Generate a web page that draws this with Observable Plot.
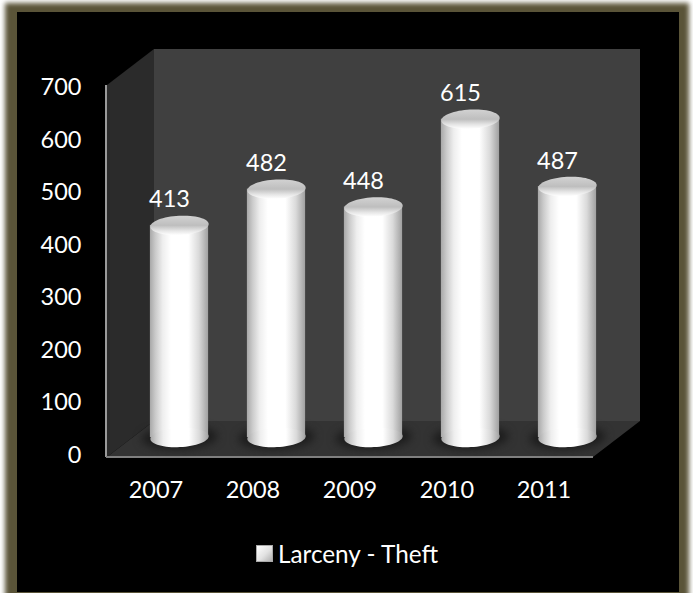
<!DOCTYPE html>
<html><head><meta charset="utf-8">
<script src="https://cdn.jsdelivr.net/npm/d3@7"></script>
<script src="https://cdn.jsdelivr.net/npm/@observablehq/plot@0.6"></script>
<style>
html,body{margin:0;padding:0;background:#fff;width:693px;height:593px;overflow:hidden}
#edge{position:absolute;left:5px;top:3px;width:684px;height:600px;background:#5a5438;filter:blur(2.5px)}
#frame{position:absolute;left:17px;top:12px;width:662px;height:580px;background:#000}
#chart{position:absolute;left:0;top:0}
#legend{position:absolute;left:256px;top:538px;height:30px;display:flex;align-items:center;color:#fff;font:24.3px Lato,sans-serif;white-space:nowrap}
#legend i{display:block;width:15px;height:15px;margin-right:5px;border:1px solid #aaa;background:linear-gradient(135deg,#ffffff,#e2e2e2 55%,#b0b0b0)}
</style></head><body>
<div id="edge"></div><div id="frame"></div><div id="chart"></div>
<div id="legend"><i></i><span>Larceny - Theft</span></div>
<script>
const years = ["2007","2008","2009","2010","2011"];
const values = [413,482,448,615,487];
const yTicks = [0,100,200,300,400,500,600,700];
const rows = years.map((year,i)=>({year,value:values[i]}));

const font = 'Lato,sans-serif';
const labelSize = 23.5;
const ellipse = (ratio,tilt)=>({draw(ctx,size){
  const rx=Math.sqrt(size/Math.PI), ry=rx*ratio, c=Math.cos(tilt), s=Math.sin(tilt);
  for(let k=0;k<64;k++){
    const a=k/64*2*Math.PI, ex=rx*Math.cos(a), ey=ry*Math.sin(a);
    const px=ex*c-ey*s, py=ex*s+ey*c;
    k?ctx.lineTo(px,py):ctx.moveTo(px,py);
  }
  ctx.closePath();
}});
const defs=()=>{
  const d=d3.create("svg:defs");
  const g=(id,x2,y2,stops)=>{
    const l=d.append("linearGradient").attr("id",id).attr("x1",0).attr("y1",0).attr("x2",x2).attr("y2",y2);
    stops.forEach(([o,c])=>l.append("stop").attr("offset",o).attr("stop-color",c));
  };
  g("cyl",1,0,[[0,"#a8a8a8"],[.1,"#cccccc"],[.22,"#eeeeee"],[.36,"#ffffff"],[.66,"#ffffff"],[.84,"#dadada"],[1,"#a0a0a0"]]);
  g("cap",0,1,[[0,"#d2d2d2"],[.5,"#bebebe"],[.78,"#e6e6e6"],[1,"#ffffff"]]);
  return d.node();
};
const walls=(i,s,v,dim)=>{
  const l=dim.marginLeft, r=dim.width-dim.marginRight, t=dim.marginTop-2, b=dim.height-dim.marginBottom+2;
  const dx=47, dy=36;
  const g=d3.create("svg:g");
  g.append("path").attr("fill","#404040").attr("d",`M${l+dx},${t-dy}H${r+dx}V${b-dy}H${l+dx}Z`);
  g.append("path").attr("fill","#2b2b2b").attr("d",`M${l},${t}L${l+dx},${t-dy}V${b-dy}L${l},${b}Z`);
  g.append("path").attr("fill","#333333").attr("d",`M${l},${b}L${l+dx},${b-dy}H${r+dx}L${r},${b}Z`);
  g.append("path").attr("fill","none").attr("stroke","#9a9a9a").attr("stroke-width",2).attr("d",`M${l-1},${t}V${b}`);
  g.append("path").attr("fill","none").attr("stroke","#808080").attr("stroke-width",2).attr("d",`M${l-1},${b}H${r}`);
  return g.node();
};

const shift=22.5, lift=13;
const plot=Plot.plot({
  width:693,height:593,
  marginTop:87,marginBottom:138,marginLeft:107,marginRight:100,
  style:{background:"transparent",color:"#fff",fontFamily:font,fontSize:labelSize+"px",overflow:"visible"},
  x:{domain:years,padding:0,label:null},
  y:{domain:[0,700],label:null},
  marks:[
    defs,
    walls,
    Plot.dot(rows,{x:"year",y:()=>0,r:38,symbol:ellipse(.3,-.04),fill:"#1c1c1c",dx:shift,dy:-lift-5,imageFilter:"blur(4px)"}),
    Plot.barY(rows,{x:"year",y:"value",fill:"url(#cyl)",dx:shift,dy:-lift,insetLeft:19.4,insetRight:19.4,insetBottom:5}),
    Plot.dot(rows,{x:"year",y:()=>0,r:29.2,symbol:ellipse(.33,-.05),fill:"url(#cyl)",dx:shift,dy:-lift-5}),
    Plot.dot(rows,{x:"year",y:"value",r:29.2,symbol:ellipse(.33,-.05),fill:"url(#cap)",dx:shift,dy:-lift}),
    Plot.text(rows,{x:"year",y:"value",text:d=>String(d.value),dx:12.5,dy:-38.5,fill:"#fff",fontSize:labelSize}),
    Plot.axisY({ticks:yTicks,tickSize:0,tickPadding:0,dx:-26,label:null,fill:"#fff",fontSize:labelSize,tickFormat:d=>String(d),textAnchor:"end"}),
    Plot.axisX({tickSize:0,tickPadding:0,dy:35,dx:-1,label:null,fill:"#fff",fontSize:labelSize,lineAnchor:"middle"})
  ]
});
document.getElementById("chart").append(plot);
</script>
</body></html>
